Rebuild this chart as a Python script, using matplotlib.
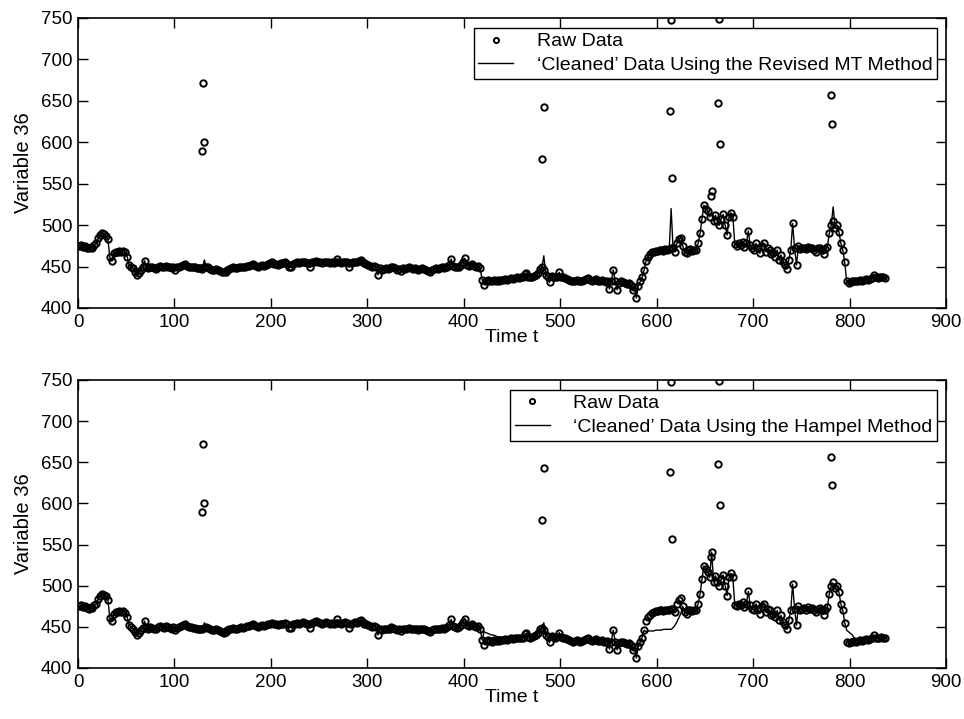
import numpy as np
import matplotlib
matplotlib.use("Agg")
import matplotlib.pyplot as plt

plt.rcParams['font.family'] = ['Liberation Sans', 'DejaVu Sans']

# Raw data sampled at odd times t = 1, 3, ..., 837
raw_t = list(range(1, 838, 2))
raw_v = [
    475, 476, 474, 475, 473, 472, 474, 473, 476, 478,
    484, 488, 490, 489, 487, 483, 461, 457, 466, 468,
    468, 469, 468, 469, 467, 462, 452, 450, 448, 444,
    440, 442, 446, 449, 457, 449, 448, 450, 449, 448,
    447, 450, 451, 450, 449, 451, 450, 449, 448, 450,
    446, 449, 450, 451, 452, 453, 451, 450, 450, 449,
    449, 448, 448, 448, 447, 449, 450, 449, 447, 446,
    446, 447, 446, 445, 444, 443, 444, 446, 447, 448,
    449, 448, 448, 449, 450, 449, 450, 451, 451, 452,
    453, 452, 451, 450, 451, 452, 451, 452, 453, 454,
    455, 453, 453, 452, 453, 454, 454, 455, 453, 449,
    449, 453, 454, 455, 454, 455, 456, 455, 454, 454,
    449, 455, 456, 457, 456, 455, 454, 455, 456, 455,
    454, 455, 454, 455, 459, 455, 454, 455, 456, 455,
    449, 454, 455, 456, 455, 457, 458, 456, 454, 453,
    452, 451, 450, 451, 450, 440, 448, 446, 447, 448,
    447, 448, 450, 449, 448, 446, 447, 445, 448, 447,
    448, 449, 448, 447, 448, 447, 446, 447, 448, 447,
    446, 445, 444, 446, 447, 448, 447, 448, 449, 448,
    449, 450, 452, 459, 451, 450, 449, 450, 452, 456,
    460, 452, 451, 452, 453, 451, 450, 451, 448, 434,
    428, 433, 434, 433, 432, 434, 433, 434, 433, 434,
    434, 435, 434, 435, 436, 435, 436, 437, 436, 437,
    437, 441, 442, 438, 437, 438, 439, 440, 442, 447,
    449, 446, 440, 438, 431, 439, 438, 437, 438, 443,
    438, 437, 436, 435, 434, 433, 432, 433, 434, 433,
    432, 433, 434, 435, 436, 434, 433, 434, 435, 433,
    433, 434, 432, 431, 433, 423, 432, 446, 432, 422,
    430, 432, 431, 430, 429, 430, 428, 422, 425, 412,
    427, 432, 437, 446, 457, 462, 465, 467, 468, 469,
    469, 470, 470, 469, 471, 470, 471, 472, 472, 468,
    478, 483, 485, 475, 468, 466, 470, 471, 469, 470,
    470, 478, 490, 508, 524, 520, 517, 510, 541, 505,
    512, 505, 500, 508, 513, 500, 488, 510, 515, 510,
    477, 475, 478, 476, 480, 474, 478, 493, 476, 472,
    470, 478, 472, 466, 475, 478, 468, 472, 470, 465,
    466, 462, 470, 458, 464, 456, 452, 447, 458, 470,
    502, 472, 452, 475, 471, 472, 473, 471, 474, 472,
    473, 470, 468, 472, 473, 470, 465, 471, 474, 490,
    500, 505, 497, 500, 492, 478, 470, 455, 432, 430,
    431, 432, 433, 432, 433, 434, 433, 434, 435, 434,
    435, 436, 440, 437, 436, 437, 438, 437, 436,
]

# Gross outliers in the raw data
out_t = [129, 130, 131, 481, 483, 614, 615, 616, 656, 664, 665, 666, 781, 782]
out_v = [589, 672, 600, 580, 643, 638, 747, 557, 535, 648, 749, 598, 657, 622]

# Cleaned values where the cleaned series differs from the raw sequence
mt_fix_t = [131, 483, 615, 657, 783]
mt_fix_v = [458, 463, 520, 515, 522]

hampel_fix_t = [131, 483,
                421, 423, 425, 427, 429, 431, 433, 435, 437, 439, 441, 443, 445,
                589, 591, 593, 595, 597, 599, 601, 603, 605, 607, 609, 611, 613,
                615, 617, 619, 621, 623, 625,
                783, 795, 797, 799, 801, 803, 805, 807]
hampel_fix_v = [455, 455,
                444, 443, 442, 441, 440, 440, 439, 438, 438, 437, 437, 436, 436,
                444, 445, 445, 445, 445, 446, 446, 446, 446, 447, 447, 447, 447,
                447, 449, 452, 456, 461, 466,
                500, 455, 446, 444, 442, 440, 436, 433]

x_ticks = [0, 100, 200, 300, 400, 500, 600, 700, 800, 900]
y_ticks = [400, 450, 500, 550, 600, 650, 700, 750]


def cleaned(fix_t, fix_v):
    v = dict(zip(raw_t, raw_v))
    for t, val in zip(fix_t, fix_v):
        v[t] = val
    ts = sorted(v)
    return ts, [v[t] for t in ts]


raw_all = sorted(list(zip(raw_t, raw_v)) + list(zip(out_t, out_v)))
rt = [p[0] for p in raw_all]
rv = [p[1] for p in raw_all]

fig = plt.figure(figsize=(9.64, 7.19), dpi=100)
ax1 = fig.add_axes([78 / 964, 1 - 308 / 719, 868 / 964, 290 / 719])
ax2 = fig.add_axes([78 / 964, 1 - 668 / 719, 868 / 964, 288 / 719])

panels = [
    (ax1, mt_fix_t, mt_fix_v, "\u2018Cleaned\u2019 Data Using the Revised MT Method"),
    (ax2, hampel_fix_t, hampel_fix_v, "\u2018Cleaned\u2019 Data Using the Hampel Method"),
]

for ax, ft, fv, lab in panels:
    ct, cv = cleaned(ft, fv)
    ln, = ax.plot(ct, cv, color='black', lw=1.0, zorder=2)
    mk, = ax.plot(rt, rv, linestyle='none', marker='o', markersize=4.6,
                  markerfacecolor='none', markeredgecolor='black',
                  markeredgewidth=1.4, zorder=3)
    ax.set_xlim(0, 900)
    ax.set_ylim(400, 750)
    ax.set_xticks(x_ticks)
    ax.set_yticks(y_ticks)
    ax.tick_params(direction='in', length=7, width=1, top=True, right=True,
                   labelsize=13.5)
    ax.tick_params(axis='x', pad=4)
    ax.tick_params(axis='y', pad=4)
    for s in ax.spines.values():
        s.set_linewidth(1.2)
    ax.set_xlabel("Time t", fontsize=14, labelpad=-1)
    ax.set_ylabel("Variable 36", fontsize=14.5, labelpad=6)
    leg = ax.legend([mk, ln], ["Raw Data", lab], loc='upper right',
                    bbox_to_anchor=(0.99, 0.966), fontsize=14, frameon=True,
                    fancybox=False, edgecolor='black', framealpha=1,
                    handlelength=1.8, labelspacing=0.3, borderpad=0.25,
                    handletextpad=1.2, borderaxespad=0.0, markerscale=0.8)
    leg.get_frame().set_linewidth(1.0)

fig.savefig("out.png", dpi=100)
